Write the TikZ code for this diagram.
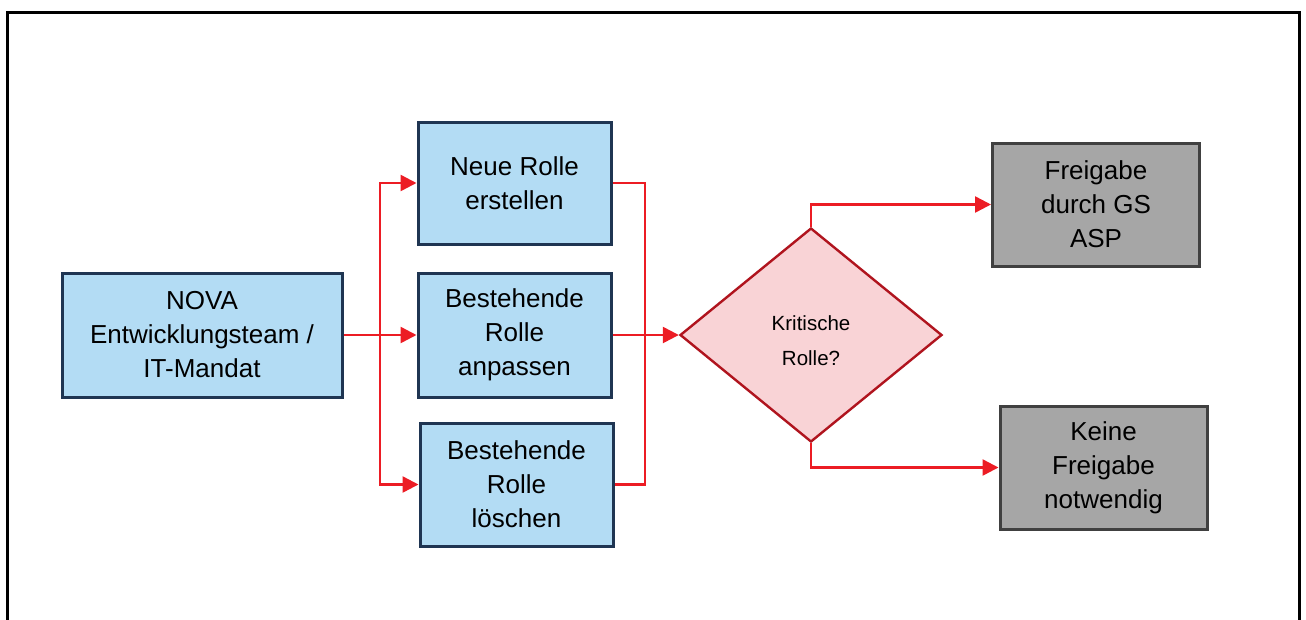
\documentclass[tikz,border=0pt]{standalone}
\usepackage{fontspec}
\setmainfont{Liberation Sans}
\usetikzlibrary{arrows.meta,shapes.geometric}
\definecolor{boxblue}{HTML}{B3DCF4}
\definecolor{boxline}{HTML}{1F3552}
\definecolor{grayfill}{HTML}{A6A6A6}
\definecolor{grayline}{HTML}{404040}
\definecolor{diafill}{HTML}{F9D3D6}
\definecolor{dialine}{HTML}{B0141E}
\definecolor{arrred}{HTML}{EC1C24}
\tikzset{
  bluebox/.style={draw=boxline, fill=boxblue, line width=3pt, inner sep=0pt,
    align=center, font=\fontsize{26}{34}\selectfont},
  graybox/.style={draw=grayline, fill=grayfill, line width=3pt, inner sep=0pt,
    minimum width=207pt, minimum height=123pt, align=center, font=\fontsize{26}{34}\selectfont},
  flow/.style={draw=arrred, line width=2.5pt},
  flowarr/.style={flow, -{Triangle[length=16pt,width=16pt]}},
}
\begin{document}
\begin{tikzpicture}[x=1pt,y=-1pt]
\useasboundingbox (0,0) rectangle (1306,619);
\draw[line width=3pt] (7,650) -- (7,12) -- (1299,12) -- (1299,650);

\node[bluebox, minimum width=280pt, minimum height=124pt] (nova) at (202,335) {NOVA\\Entwicklungsteam /\\IT-Mandat};
\node[bluebox, minimum width=193pt, minimum height=122pt] (neu) at (514.5,183) {Neue Rolle\\erstellen};
\node[bluebox, minimum width=193pt, minimum height=124pt] (anp) at (514.5,335) {Bestehende\\Rolle\\anpassen};
\node[bluebox, minimum width=193pt, minimum height=123pt] (loe) at (516.5,484.5) {Bestehende\\Rolle\\löschen};

\node[draw=dialine, fill=diafill, line width=2.4pt, diamond, inner sep=0pt,
  minimum width=262pt, minimum height=214pt] (dia) at (811,335) {};
\node[align=center, inner sep=0pt, font=\fontsize{20.5}{35}\selectfont]
  (diatext) at ([yshift=-6pt]dia.center) {Kritische\\Rolle?};

\node[graybox] (frei) at (1096,204.5) {Freigabe\\durch GS\\ASP};
\node[graybox] (keine) at (1103.5,467.5) {Keine\\Freigabe\\notwendig};

\coordinate (split) at (380,335);
\coordinate (join) at (645,335);

\draw[flow] (nova.east) -- (split);
\draw[flowarr] (split) |- (neu.west);
\draw[flowarr] (split) -- (anp.west);
\draw[flowarr] (split) |- (loe.west);

\draw[flow] (neu.east) -| (join);
\draw[flow] (loe.east) -| (join);
\draw[flowarr] (anp.east) -- (dia.west);

\draw[flowarr] (dia.north) |- (frei.west);
\draw[flowarr] (dia.south) |- (keine.west);
\end{tikzpicture}
\end{document}
